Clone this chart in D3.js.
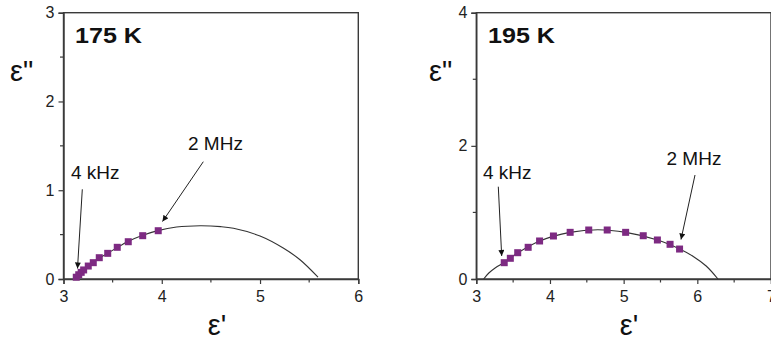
<!DOCTYPE html>
<html><head><meta charset="utf-8">
<script src="https://cdn.jsdelivr.net/npm/d3@7"></script>
<style>
html,body{margin:0;padding:0;background:#fff;}
svg{display:block;font-family:"Liberation Sans",Arial,sans-serif;}
</style></head>
<body><svg id="c" width="771" height="343"></svg>
<script>
// ---- data ----
const panelTitles = ["175 K", "195 K"];
const xTicks175 = [3, 4, 5, 6];
const yTicks175 = [0, 1, 2, 3];
const xTicks195 = [3, 4, 5, 6, 7];
const yTicks195 = [0, 2, 4];
// measured points (eps', eps'')
const epsReal175 = [3.13, 3.155, 3.18, 3.205, 3.252, 3.303, 3.364, 3.45, 3.547, 3.659, 3.806, 3.964];
const epsImag175 = [0.02, 0.048, 0.075, 0.102, 0.146, 0.184, 0.24, 0.289, 0.357, 0.42, 0.488, 0.544];
const epsReal195 = [3.379, 3.462, 3.562, 3.704, 3.859, 4.047, 4.274, 4.526, 4.777, 5.027, 5.266, 5.458, 5.63, 5.759];
const epsImag195 = [0.245, 0.311, 0.395, 0.476, 0.571, 0.646, 0.701, 0.736, 0.736, 0.701, 0.65, 0.586, 0.521, 0.45];
// fitted arc
const fitReal175 = [3.12, 3.2, 3.3, 3.45, 3.65, 3.8, 3.96, 4.15, 4.39, 4.6, 4.73, 5.0, 5.24, 5.41, 5.59];
const fitImag175 = [0.0, 0.1, 0.19, 0.29, 0.42, 0.49, 0.545, 0.585, 0.60, 0.59, 0.571, 0.484, 0.346, 0.214, 0.02];
const fitReal195 = [3.10, 3.17, 3.26, 3.38, 3.56, 3.86, 4.27, 4.65, 5.03, 5.46, 5.76, 5.95, 6.12, 6.28];
const fitImag195 = [0.0, 0.09, 0.17, 0.25, 0.39, 0.57, 0.70, 0.74, 0.70, 0.585, 0.45, 0.335, 0.195, 0.0];
const annotLabels = ["4 kHz", "2 MHz"];

const svg = d3.select("#c");
const purple = "#7d2a82";
const frame = "#3a3a3a";

const panels = [
  {title: panelTitles[0], xd:[3,6], yd:[0,3], xr:[63.5,358.3], yr:[279,12.7],
   xt:xTicks175, yt:yTicks175, xr2:epsReal175, yi:epsImag175, fx:fitReal175, fy:fitImag175,
   ylab:{x:10, y:81}, xlab:{x:217, y:335}, titlePos:{x:75, y:43}, titleLen:67,
   ann:[{t:annotLabels[0], tx:71, ty:178.5, ax1:[82.3,189.3], ax2:[77.5,268.5]},
        {t:annotLabels[1], tx:188, ty:150, ax1:[203.3,161.7], ax2:[162.5,221.5]}]},
  {title: panelTitles[1], xd:[3,7], yd:[0,4], xr:[476.3,771], yr:[279,12.7],
   xt:xTicks195, yt:yTicks195, xr2:epsReal195, yi:epsImag195, fx:fitReal195, fy:fitImag195,
   ylab:{x:429, y:81}, xlab:{x:629, y:335}, titlePos:{x:488, y:43}, titleLen:67,
   ann:[{t:annotLabels[0], tx:483, ty:178.5, ax1:[498.3,186.7], ax2:[501.7,256]},
        {t:annotLabels[1], tx:666.5, ty:165, ax1:[695,175], ax2:[681,239.5]}]}
];

// arrow marker
const defs = svg.append("defs");
defs.append("marker").attr("id","ah").attr("viewBox","0 0 10 10").attr("refX",10).attr("refY",5)
  .attr("markerWidth",7).attr("markerHeight",6).attr("markerUnits","userSpaceOnUse").attr("orient","auto")
  .append("path").attr("d","M0,0 L10,5 L0,10 Z").attr("fill","#111");

panels.forEach(p => {
  const x = d3.scaleLinear().domain(p.xd).range(p.xr);
  const y = d3.scaleLinear().domain(p.yd).range(p.yr);
  const g = svg.append("g");

  // frame
  g.append("rect").attr("x",p.xr[0]).attr("y",p.yr[1]).attr("width",p.xr[1]-p.xr[0]).attr("height",p.yr[0]-p.yr[1])
    .attr("fill","none").attr("stroke",frame).attr("stroke-width",1.4);

  // x axis
  const xMinor = d3.range(p.xd[0], p.xd[1]+0.001, 0.5);
  const xa = d3.axisBottom(x).tickValues(p.xt).tickSize(5).tickPadding(7).tickFormat(d3.format("d"));
  const xg = g.append("g").attr("transform",`translate(0,${p.yr[0]})`).call(xa);
  xg.select(".domain").attr("stroke",frame).attr("stroke-width",1.4);
  xg.selectAll(".tick line").attr("stroke",frame).attr("stroke-width",1.2);
  xg.selectAll(".tick text").attr("font-size",16).attr("fill","#222").attr("font-family","Liberation Sans, Arial, sans-serif");
  g.append("g").selectAll("line").data(xMinor.filter(v=>!p.xt.includes(v))).join("line")
    .attr("x1",d=>x(d)).attr("x2",d=>x(d)).attr("y1",p.yr[0]).attr("y2",p.yr[0]+3.5)
    .attr("stroke",frame).attr("stroke-width",1.2);

  // y axis
  const yStep = (p.yt[1]-p.yt[0])/2;
  const yMinor = d3.range(p.yd[0], p.yd[1]+0.001, yStep);
  const ya = d3.axisLeft(y).tickValues(p.yt).tickSize(5).tickPadding(4).tickFormat(d3.format("d"));
  const yg = g.append("g").attr("transform",`translate(${p.xr[0]},0)`).call(ya);
  yg.select(".domain").attr("stroke",frame).attr("stroke-width",1.4);
  yg.selectAll(".tick line").attr("stroke",frame).attr("stroke-width",1.2);
  yg.selectAll(".tick text").attr("font-size",16).attr("fill","#222").attr("font-family","Liberation Sans, Arial, sans-serif");
  g.append("g").selectAll("line").data(yMinor.filter(v=>!p.yt.includes(v))).join("line")
    .attr("y1",d=>y(d)).attr("y2",d=>y(d)).attr("x1",p.xr[0]).attr("x2",p.xr[0]-3.5)
    .attr("stroke",frame).attr("stroke-width",1.2);

  // fit arc
  const fit = p.fx.map((v,i)=>[v,p.fy[i]]);
  g.append("path").datum(fit)
    .attr("d", d3.line().x(d=>x(d[0])).y(d=>y(d[1])).curve(d3.curveCatmullRom.alpha(0.5)))
    .attr("fill","none").attr("stroke","#333").attr("stroke-width",1.1);

  // points
  const pts = p.xr2.map((v,i)=>[v,p.yi[i]]);
  g.append("g").selectAll("rect").data(pts).join("rect")
    .attr("x",d=>x(d[0])-3.5).attr("y",d=>y(d[1])-3.5).attr("width",7).attr("height",7)
    .attr("fill",purple);

  // title
  g.append("text").attr("x",p.titlePos.x).attr("y",p.titlePos.y).text(p.title)
    .attr("font-size",22).attr("font-weight","bold").attr("fill","#111")
    .attr("textLength",p.titleLen).attr("lengthAdjust","spacingAndGlyphs");

  // axis labels
  g.append("text").attr("x",p.ylab.x).attr("y",p.ylab.y).text("ε\"")
    .attr("font-size",29).attr("fill","#111");
  g.append("text").attr("x",p.xlab.x).attr("y",p.xlab.y).text("ε'")
    .attr("font-size",29).attr("fill","#111").attr("text-anchor","middle");

  // annotations
  p.ann.forEach(a=>{
    g.append("text").attr("x",a.tx).attr("y",a.ty).text(a.t).attr("font-size",19).attr("fill","#111");
    g.append("line").attr("x1",a.ax1[0]).attr("y1",a.ax1[1]).attr("x2",a.ax2[0]).attr("y2",a.ax2[1])
      .attr("stroke","#222").attr("stroke-width",1).attr("marker-end","url(#ah)");
  });
});
</script>
</body></html>
